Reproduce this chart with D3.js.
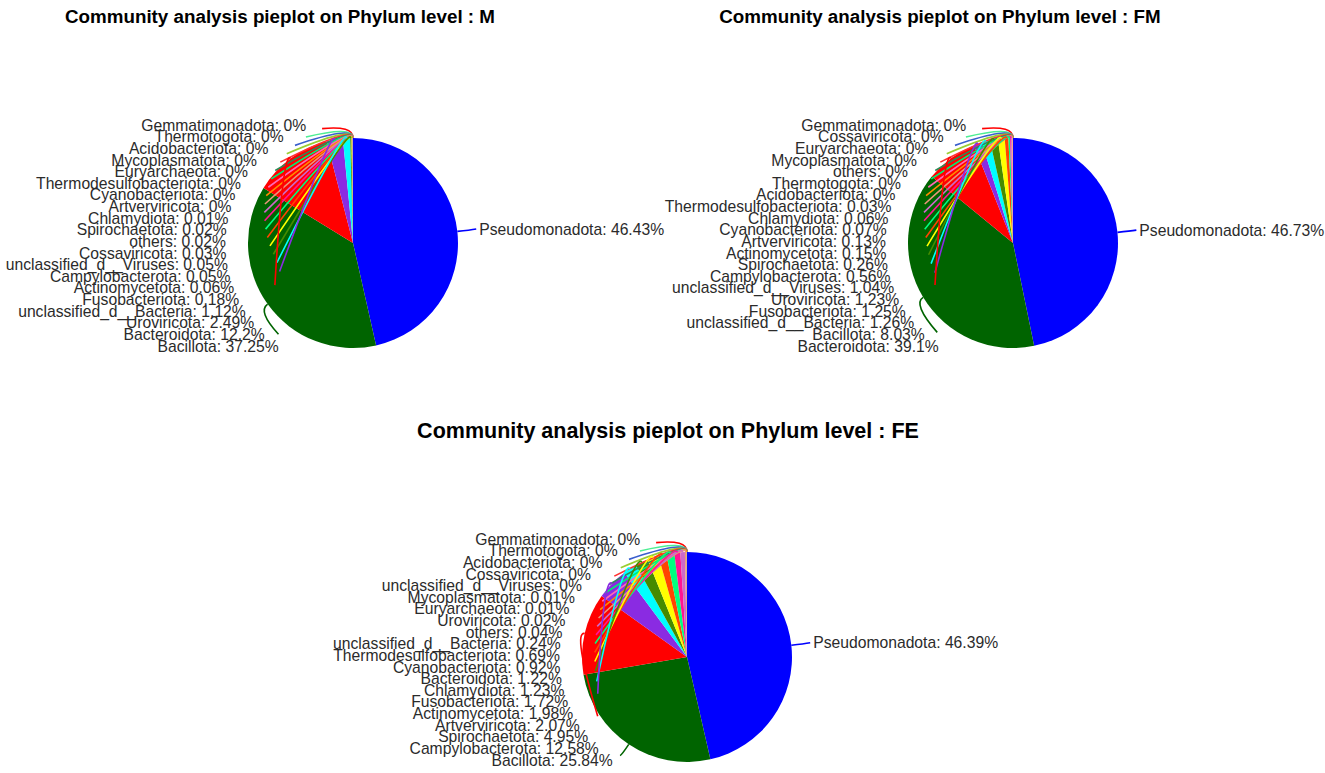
<!DOCTYPE html>
<html>
<head>
<meta charset="utf-8">
<script src="https://cdn.jsdelivr.net/npm/d3@7/dist/d3.min.js"></script>
<style>
  body { margin: 0; background: #fff; }
  text { font-family: "Liberation Sans", Arial, sans-serif; }
</style>
</head>
<body>
<svg id="chart"></svg>
<script>
// slice order = order drawn clockwise from 12 o'clock
const namesM = ["Pseudomonadota", "Bacillota", "Bacteroidota", "Uroviricota", "unclassified_d__Bacteria",
  "Fusobacteriota", "Actinomycetota", "Campylobacterota", "unclassified_d__Viruses", "Cossaviricota",
  "others", "Spirochaetota", "Chlamydiota", "Artverviricota", "Cyanobacteriota", "Thermodesulfobacteriota",
  "Euryarchaeota", "Mycoplasmatota", "Acidobacteriota", "Thermotogota", "Gemmatimonadota"];
const valuesM = [46.43, 37.25, 12.2, 2.49, 1.12, 0.18, 0.06, 0.05, 0.05, 0.03,
  0.02, 0.02, 0.01, 0, 0, 0, 0, 0, 0, 0, 0];

const namesFM = ["Pseudomonadota", "Bacteroidota", "Bacillota", "unclassified_d__Bacteria", "Fusobacteriota",
  "Uroviricota", "unclassified_d__Viruses", "Campylobacterota", "Spirochaetota", "Actinomycetota",
  "Artverviricota", "Cyanobacteriota", "Chlamydiota", "Thermodesulfobacteriota", "Acidobacteriota",
  "Thermotogota", "others", "Mycoplasmatota", "Euryarchaeota", "Cossaviricota", "Gemmatimonadota"];
const valuesFM = [46.73, 39.1, 8.03, 1.26, 1.25, 1.23, 1.04, 0.56, 0.26, 0.15,
  0.13, 0.07, 0.06, 0.03, 0, 0, 0, 0, 0, 0, 0];

const namesFE = ["Pseudomonadota", "Bacillota", "Campylobacterota", "Spirochaetota", "Artverviricota",
  "Actinomycetota", "Fusobacteriota", "Chlamydiota", "Bacteroidota", "Cyanobacteriota",
  "Thermodesulfobacteriota", "unclassified_d__Bacteria", "others", "Uroviricota", "Euryarchaeota",
  "Mycoplasmatota", "unclassified_d__Viruses", "Cossaviricota", "Acidobacteriota", "Thermotogota",
  "Gemmatimonadota"];
const valuesFE = [46.39, 25.84, 12.58, 4.95, 2.07, 1.98, 1.72, 1.23, 1.22, 0.92,
  0.69, 0.24, 0.04, 0.02, 0.01, 0.01, 0, 0, 0, 0, 0];

const PALETTE = ["#0000ff", "#006400", "#ff0000", "#8a2be2", "#00ffff", "#458b00", "#ffff00",
  "#ff4500", "#00ff7f", "#ff1493", "#cd69c9", "#e9967a", "#ff8c00", "#ff69b4", "#00ee76",
  "#2e8b57", "#ff3030", "#9acd32", "#3a5fcd", "#4eee94", "#ff0000"];

const WIDTH = 1325;
const HEIGHT = 773;
const R = 105;           // pie radius
const LABEL_R = 127;     // radius the label ends sit on
const LEAD_FRAC = 0.72;  // how far the leader runs toward its label

const panels = [
  { title: "Community analysis pieplot on Phylum level : M", names: namesM, values: valuesM,
    cx: 353, cy: 243, tx: 280, ty: 23, tsize: 18.8 },
  { title: "Community analysis pieplot on Phylum level : FM", names: namesFM, values: valuesFM,
    cx: 1013, cy: 243, tx: 940, ty: 23, tsize: 18.8 },
  { title: "Community analysis pieplot on Phylum level : FE", names: namesFE, values: valuesFE,
    cx: 687, cy: 657, tx: 668, ty: 438, tsize: 21.5 },
];

const svg = d3.select("#chart").attr("width", WIDTH).attr("height", HEIGHT);

const pie = d3.pie().sort(null).value((d) => d.value);
const arc = d3.arc().innerRadius(0).outerRadius(R);

function polar(cx, cy, rad, a) {
  return [cx + rad * Math.sin(a), cy - rad * Math.cos(a)];
}

panels.forEach((p) => {
  const data = p.names.map((name, i) => ({ name, value: p.values[i], i }));
  const arcs = pie(data);
  const g = svg.append("g");

  g.append("text")
    .attr("x", p.tx)
    .attr("y", p.ty)
    .attr("text-anchor", "middle")
    .attr("font-size", p.tsize)
    .attr("font-weight", "bold")
    .attr("fill", "#000")
    .text(p.title);

  g.append("g")
    .attr("transform", `translate(${p.cx},${p.cy})`)
    .selectAll("path")
    .data(arcs)
    .join("path")
    .attr("d", arc)
    .attr("fill", (d) => PALETTE[d.data.i % PALETTE.length]);

  // label placement: right side keeps its natural spot, left side is stacked
  const mid = (d) => (d.startAngle + d.endAngle) / 2;
  const right = arcs.filter((d) => mid(d) < Math.PI);
  const left = arcs.filter((d) => mid(d) >= Math.PI).sort((a, b) => b.data.i - a.data.i);
  const rows = d3.scalePoint()
    .domain(left.map((d) => d.data.i))
    .range([p.cy - 1.124 * R, p.cy + 0.981 * R]);

  const labels = [];
  right.forEach((d) => {
    const [x, y] = polar(p.cx, p.cy, LABEL_R, mid(d));
    labels.push({ d, x, y, anchor: "start", lx: x - 3, frac: 1 });
  });
  left.forEach((d) => {
    const y = rows(d.data.i);
    const dy = y - p.cy;
    const x = p.cx - Math.sqrt(Math.max(0, LABEL_R * LABEL_R - dy * dy));
    labels.push({ d, x, y, anchor: "end", lx: x + 4, frac: LEAD_FRAC });
  });

  g.append("g")
    .selectAll("path")
    .data(labels)
    .join("path")
    .attr("d", (l) => {
      const a = mid(l.d);
      const [x0, y0] = polar(p.cx, p.cy, R, a);
      const [cx1, cy1] = polar(p.cx, p.cy, R * 1.12, a);
      const x2 = x0 + l.frac * (l.lx - x0);
      const y2 = y0 + l.frac * (l.y - y0);
      const path = d3.path();
      path.moveTo(x0, y0);
      path.quadraticCurveTo(cx1, cy1, x2, y2);
      return path.toString();
    })
    .attr("fill", "none")
    .attr("stroke", (l) => PALETTE[l.d.data.i % PALETTE.length])
    .attr("stroke-width", 1.6);

  g.append("g")
    .selectAll("text")
    .data(labels)
    .join("text")
    .attr("x", (l) => l.x)
    .attr("y", (l) => l.y)
    .attr("dy", "0.36em")
    .attr("text-anchor", (l) => l.anchor)
    .attr("font-size", 15.7)
    .attr("fill", "#2b2b2b")
    .text((l) => `${l.d.data.name}: ${l.d.data.value}%`);
});
</script>
</body>
</html>
